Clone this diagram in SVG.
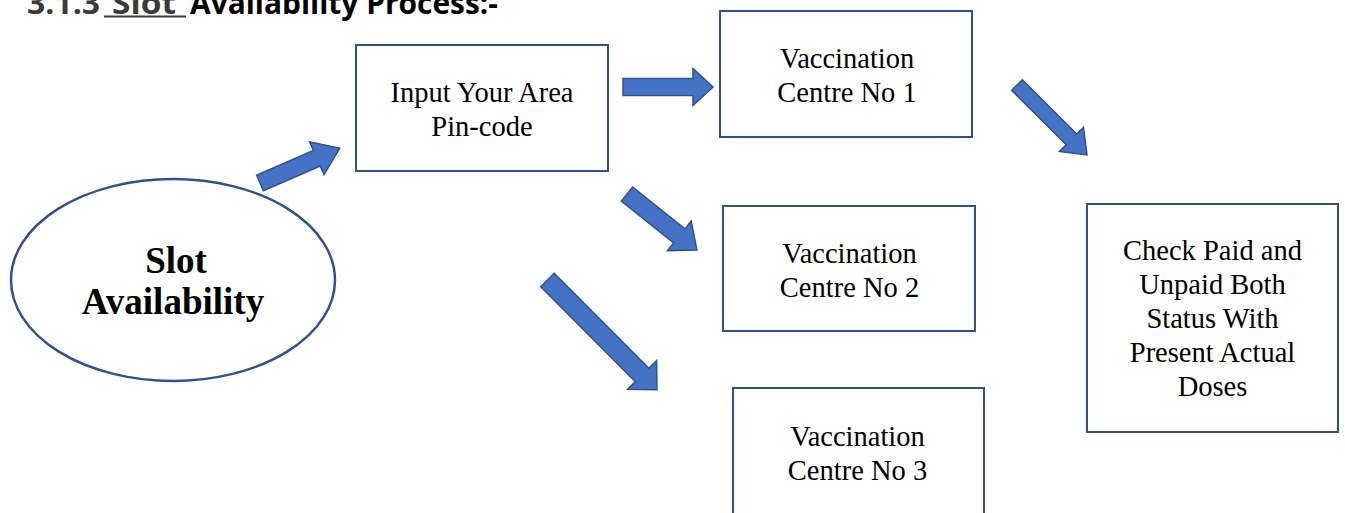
<svg xmlns="http://www.w3.org/2000/svg" width="1345" height="513" viewBox="0 0 1345 513">
<defs>
<style>
.box{fill:#fff;stroke:#2F528F;stroke-width:2}
.arr{fill:#4472C4;stroke:#2F528F;stroke-width:1.5;stroke-linejoin:miter}
.t{font-family:"Liberation Serif","Times New Roman",serif;font-size:28.5px;fill:#000;text-anchor:middle}
.tb{font-family:"Liberation Serif","Times New Roman",serif;font-size:37px;font-weight:bold;fill:#000;text-anchor:middle}
.title{font-family:"Open Sans","Liberation Sans",Arial,sans-serif;font-size:31px;font-weight:bold;fill:#000}
</style>
</defs>
<rect width="1345" height="513" fill="#fff"/>
<text class="title" y="14"><tspan x="27" fill="#3b3b3b" textLength="73" lengthAdjust="spacingAndGlyphs">3.1.3</tspan><tspan x="112" fill="#3b3b3b" textLength="64" lengthAdjust="spacingAndGlyphs">Slot</tspan><tspan x="190" textLength="308" lengthAdjust="spacingAndGlyphs">Availability Process:-</tspan></text>
<line x1="104" y1="16.5" x2="186" y2="16.5" stroke="#3b3b3b" stroke-width="2"/>

<g id="connectors">
<path class="arr" transform="translate(260,183) rotate(-23.6)" d="M0,-8.5 L62,-8.5 L62,-18 L87,0 L62,18 L62,8.5 L0,8.5 Z"/>
<path class="arr" transform="translate(623,87)" d="M0,-8.5 L70,-8.5 L70,-18.5 L90,0 L70,18.5 L70,8.5 L0,8.5 Z"/>
<path class="arr" transform="translate(627,194) rotate(38.7)" d="M0,-9 L67,-9 L67,-19 L89.6,0 L67,19 L67,9 L0,9 Z"/>
<path class="arr" transform="translate(547.5,280) rotate(45.1)" d="M0,-9.5 L134,-9.5 L134,-20.5 L155,0 L134,20.5 L134,9.5 L0,9.5 Z"/>
<path class="arr" transform="translate(1017,85) rotate(45)" d="M0,-7.5 L77,-7.5 L77,-17 L99,0 L77,17 L77,7.5 L0,7.5 Z"/>
</g>

<g id="slot-availability">
<ellipse cx="173" cy="280" rx="162" ry="101" fill="#fff" stroke="#2F528F" stroke-width="2.5"/>
<text class="tb" x="176" y="273">Slot</text>
<text class="tb" x="173" y="314">Availability</text>
</g>

<g id="input-pincode">
<rect class="box" x="356" y="45" width="252" height="126"/>
<text class="t" x="482" y="102">Input Your Area</text>
<text class="t" x="482" y="136">Pin-code</text>
</g>

<g id="centre-1">
<rect class="box" x="720" y="11" width="252" height="126"/>
<text class="t" x="847" y="68">Vaccination</text>
<text class="t" x="847" y="102">Centre No 1</text>
</g>

<g id="centre-2">
<rect class="box" x="723" y="206" width="252" height="125"/>
<text class="t" x="849.5" y="263">Vaccination</text>
<text class="t" x="849.5" y="297">Centre No 2</text>
</g>

<g id="centre-3">
<rect class="box" x="733" y="388" width="251" height="135"/>
<text class="t" x="857.5" y="446">Vaccination</text>
<text class="t" x="857.5" y="480">Centre No 3</text>
</g>

<g id="check-status">
<rect class="box" x="1087" y="204" width="251" height="228"/>
<text class="t" x="1212.5" y="260">Check Paid and</text>
<text class="t" x="1212.5" y="294">Unpaid Both</text>
<text class="t" x="1212.5" y="328">Status With</text>
<text class="t" x="1212.5" y="362">Present Actual</text>
<text class="t" x="1212.5" y="396">Doses</text>
</g>
</svg>
